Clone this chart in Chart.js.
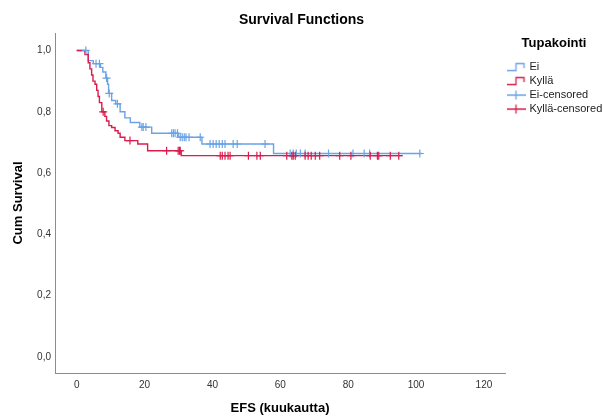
<!DOCTYPE html>
<html>
<head>
<meta charset="utf-8">
<script src="https://cdn.jsdelivr.net/npm/chart.js@4.4.1/dist/chart.umd.min.js"></script>
<style>
  html, body { margin: 0; padding: 0; background: #ffffff; }
  canvas { display: block; }
</style>
</head>
<body>
<canvas id="c" width="603" height="416"></canvas>
<script>
// ---- data ----
const groupNames = ['Ei', 'Kyllä'];
const legendTitle = 'Tupakointi';

// Ei (no) group: event times and survival after each event
const eiTimes = [3.4, 4.9, 7.0, 7.7, 8.6, 9.1, 9.4, 10.3, 11.5, 12.8, 14.2, 15.8, 18.6, 22.1, 29.9, 36.9, 58.0];
const eiSurv  = [0.967, 0.957, 0.945, 0.93, 0.91, 0.89, 0.86, 0.837, 0.826, 0.80, 0.78, 0.765, 0.75, 0.73, 0.717, 0.695, 0.664];
const eiLastTime = 101.7;
const eiCensored = [2.7, 5.7, 6.7, 8.8, 9.6, 12.0, 19.2, 19.6, 20.4, 28.0, 28.5, 29.0, 29.7,
  30.5, 31.1, 31.7, 32.2, 33.1, 36.4, 39.3, 40.2, 41.1, 42.0, 42.9, 43.7, 46.1, 47.3, 55.5,
  62.9, 63.8, 64.7, 65.9, 67.3, 74.2, 81.4, 84.7, 86.3, 101.1];

// Kyllä (yes) group
const kyllaTimes = [2.45, 3.4, 3.9, 4.4, 4.8, 5.4, 5.9, 6.3, 6.7, 7.4, 8.3, 8.8, 9.5, 10.3, 11.3, 12.2, 12.8, 14.2, 18.0, 20.9, 30.8];
const kyllaSurv  = [0.987, 0.96, 0.94, 0.92, 0.90, 0.89, 0.87, 0.85, 0.83, 0.80, 0.785, 0.77, 0.755, 0.749, 0.738, 0.73, 0.717, 0.706, 0.695, 0.673, 0.657];
const kyllaLastTime = 95.9;
const kyllaCensored = [7.8, 15.7, 26.5, 29.9, 30.3, 30.5, 42.3, 42.9, 43.7, 44.6, 45.2, 50.6, 53.1, 54.1,
  61.9, 63.4, 63.8, 64.4, 67.3, 68.2, 69.1, 70.3, 71.6, 77.5, 80.8, 86.5, 88.6, 89.0, 92.4, 94.9];

const xTickValues = [0, 20, 40, 60, 80, 100, 120];
const xTickLabels = ['0', '20', '40', '60', '80', '100', '120'];
const yTickValues = [0, 0.2, 0.4, 0.6, 0.8, 1.0];
const yTickLabels = ['0,0', '0,2', '0,4', '0,6', '0,8', '1,0'];

// ---- styling ----
const BLUE = '#6aa3e6';
const RED = '#d91c4c';
const FONT = "'Liberation Sans', Arial, Helvetica, sans-serif";

function stepPoints(times, surv, last) {
  const pts = [{x: 0, y: 1}];
  times.forEach((t, i) => pts.push({x: t, y: surv[i]}));
  pts.push({x: last, y: surv[surv.length - 1]});
  return pts;
}
function survivalAt(times, surv, t) {
  let s = 1;
  for (let i = 0; i < times.length; i++) if (times[i] <= t) s = surv[i];
  return s;
}
function censorPoints(cens, times, surv) {
  return cens.map(t => ({x: t, y: survivalAt(times, surv, t)}));
}

function stepIcon(color) {
  const c = document.createElement('canvas');
  c.width = 19; c.height = 10;
  const g = c.getContext('2d');
  g.strokeStyle = color; g.lineWidth = 1.3;
  g.beginPath();
  g.moveTo(0, 8.5); g.lineTo(9.5, 8.5); g.lineTo(9.5, 1.5); g.lineTo(17.5, 1.5); g.lineTo(17.5, 6);
  g.stroke();
  return c;
}
function censorIcon(color) {
  const c = document.createElement('canvas');
  c.width = 19; c.height = 10;
  const g = c.getContext('2d');
  g.strokeStyle = color; g.lineWidth = 1.3;
  g.beginPath();
  g.moveTo(0, 5); g.lineTo(19, 5);
  g.moveTo(9.5, 0.5); g.lineTo(9.5, 9.5);
  g.stroke();
  return c;
}

const icons = [stepIcon(BLUE), stepIcon(RED), censorIcon(BLUE), censorIcon(RED)];

const chart = new Chart(document.getElementById('c'), {
  type: 'scatter',
  data: {
    datasets: [
      {
        type: 'line', label: groupNames[0], data: stepPoints(eiTimes, eiSurv, eiLastTime),
        stepped: 'before', borderColor: BLUE, borderWidth: 1.4, pointRadius: 0, fill: false, order: 4
      },
      {
        type: 'line', label: groupNames[1], data: stepPoints(kyllaTimes, kyllaSurv, kyllaLastTime),
        stepped: 'before', borderColor: RED, borderWidth: 1.4, pointRadius: 0, fill: false, order: 3
      },
      {
        label: groupNames[0] + '-censored', data: censorPoints(eiCensored, eiTimes, eiSurv),
        pointStyle: 'cross', pointRadius: 4, pointBorderWidth: 1.2, borderColor: BLUE, backgroundColor: BLUE,
        showLine: false, order: 2
      },
      {
        label: groupNames[1] + '-censored', data: censorPoints(kyllaCensored, kyllaTimes, kyllaSurv),
        pointStyle: 'cross', pointRadius: 4, pointBorderWidth: 1.2, borderColor: RED, backgroundColor: RED,
        showLine: false, order: 1
      }
    ]
  },
  options: {
    responsive: false,
    devicePixelRatio: 1,
    animation: false,
    events: [],
    layout: { padding: { left: 0, right: 0, top: 0, bottom: 0 } },
    plugins: {
      tooltip: { enabled: false },
      title: {
        display: true, text: 'Survival Functions', color: '#000',
        font: { family: FONT, size: 14, weight: 'bold' },
        padding: { top: 11.6, bottom: 4.6 }
      },
      legend: {
        display: true, position: 'right', align: 'start', fullSize: false, maxWidth: 98,
        title: {
          display: true, text: legendTitle, color: '#000',
          font: { family: FONT, size: 13, weight: 'bold' },
          padding: { top: 4, bottom: 6 }
        },
        labels: {
          usePointStyle: true, pointStyleWidth: 16, padding: 3, color: '#222',
          font: { family: FONT, size: 11 },
          generateLabels: (ch) => ch.data.datasets.map((ds, i) => ({
            text: ds.label, datasetIndex: i, pointStyle: icons[i],
            fillStyle: 'transparent', strokeStyle: 'transparent', lineWidth: 0,
            hidden: false, fontColor: '#222'
          }))
        }
      }
    },
    scales: {
      x: {
        type: 'linear', min: -6.39, max: 126.2,
        afterBuildTicks: (s) => { s.ticks = xTickValues.map(v => ({ value: v })); },
        afterFit: (s) => { s.height = 43; },
        grid: { display: false, drawTicks: false },
        border: { display: true, color: '#8c8c8c', width: 1 },
        ticks: {
          color: '#333', font: { family: FONT, size: 10 }, padding: 6, maxRotation: 0,
          callback: (v, i) => xTickLabels[i]
        },
        title: {
          display: true, text: 'EFS (kuukautta)', color: '#000',
          font: { family: FONT, size: 13, weight: 'bold' },
          padding: { top: 0, bottom: 0 }
        }
      },
      y: {
        type: 'linear', min: -0.052, max: 1.057,
        afterBuildTicks: (s) => { s.ticks = yTickValues.map(v => ({ value: v })); },
        afterFit: (s) => { s.width = 55; },
        grid: { display: false, drawTicks: false },
        border: { display: true, color: '#8c8c8c', width: 1 },
        ticks: {
          color: '#333', font: { family: FONT, size: 10 }, padding: 4,
          callback: (v, i) => yTickLabels[i]
        },
        title: {
          display: true, text: 'Cum Survival', color: '#000',
          font: { family: FONT, size: 13, weight: 'bold' },
          padding: { top: 11, bottom: 0 }
        }
      }
    }
  }
});
</script>
</body>
</html>
